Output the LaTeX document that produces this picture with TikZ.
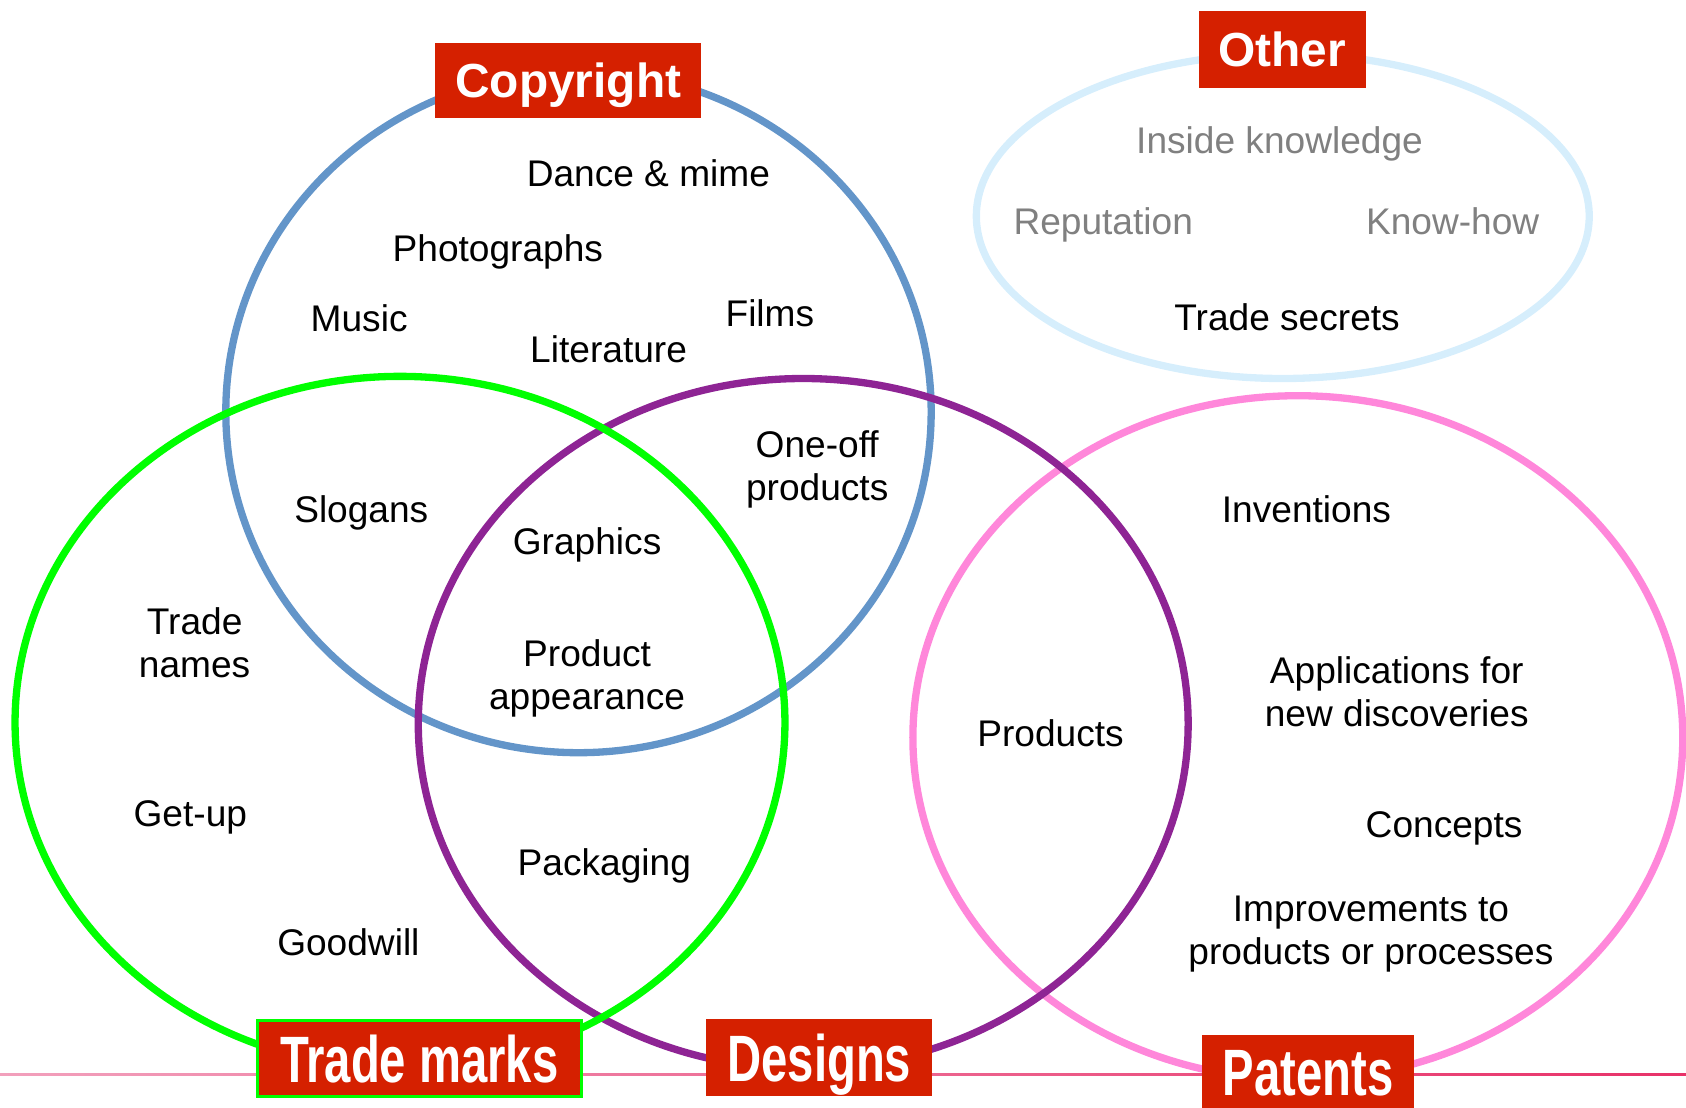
\documentclass[tikz,border=0pt]{standalone}
\usepackage{fontspec}
\setmainfont{Liberation Sans}

\definecolor{copyblue}{RGB}{99,149,201}
\definecolor{markgreen}{RGB}{0,255,0}
\definecolor{designpurple}{RGB}{142,36,148}
\definecolor{patentpink}{RGB}{255,135,218}
\definecolor{otherblue}{RGB}{214,238,252}
\definecolor{tagred}{RGB}{213,32,0}
\definecolor{othergray}{RGB}{128,128,128}
\definecolor{lineleft}{RGB}{242,160,188}
\definecolor{lineright}{RGB}{232,50,105}

\newcommand{\narrowtag}[1]{\scalebox{0.72}[1]{#1}}

\tikzset{every picture/.style={line width=0.75pt}}
\tikzset{
  ring/.style={line width=3.4pt},
  tag/.style={fill=tagred, text=white, inner sep=0pt, text depth=0pt,
    font=\fontsize{22.25}{26}\selectfont\bfseries},
  widetag/.style={tag, font=\fontsize{30.5}{34}\selectfont\bfseries},
  item/.style={inner sep=0pt, align=center,
    font=\fontsize{17.25}{20}\selectfont},
  faint/.style={item, text=othergray}
}

\begin{document}
\begin{tikzpicture}[x=0.5pt,y=0.5pt,yscale=-1,xscale=1]
  \useasboundingbox (0,0) rectangle (1568,1030);

  %Straight Lines
  \shade [left color=lineleft, right color=lineright] (0,998) rectangle (1568,1000.5);

  %Shape: Ellipse
  \draw [otherblue, ring] (1193,201) ellipse [x radius=285, y radius=151];
  %Shape: Circle
  \draw [copyblue, ring] (538,383) ellipse [x radius=328, y radius=317];
  %Shape: Circle
  \draw [patentpink, ring] (1207,686) ellipse [x radius=358, y radius=318];
  %Shape: Circle
  \draw [designpurple, ring] (747,673) ellipse [x radius=358, y radius=321];
  %Shape: Circle
  \draw [markgreen, ring] (372,672) ellipse [x radius=358, y radius=322];

  % Tags
  \node [tag, minimum width=123.5pt, minimum height=35pt] (copyright) at (528.5,75) {Copyright};
  \node [tag, minimum width=77.5pt, minimum height=36pt] (other) at (1192.5,46) {Other};
  \node [widetag, draw=markgreen, line width=1.4pt, minimum width=150.5pt, minimum height=35pt] (marks) at (390,984.5) {\narrowtag{Trade marks}};
  \node [widetag, minimum width=105pt, minimum height=35.5pt] (designs) at (762,983.5) {\narrowtag{Designs}};
  \node [widetag, minimum width=98.5pt, minimum height=35pt] (patents) at (1216.5,998) {\narrowtag{Patents}};

  % Copyright only
  \node [item] (dance) at (603,161) {Dance \& mime};
  \node [item] (photos) at (463,234) {Photographs};
  \node [item] (music) at (334,296) {Music};
  \node [item] (films) at (716,291) {Films};
  \node [item] (literature) at (566,325) {Literature};
  \node [item] (oneoff) at (760,437) {One-off\\products};
  % Copyright and trade marks
  \node [item] (slogans) at (336,477) {Slogans};
  % All three
  \node [item] (graphics) at (546,507) {Graphics};
  \node [item] (appearance) at (546,631) {Product\\appearance};
  % Trade marks only
  \node [item] (names) at (181,598) {Trade\\names};
  \node [item] (getup) at (177,760) {Get-up};
  \node [item] (goodwill) at (324,876) {Goodwill};
  % Trade marks and designs
  \node [item] (packaging) at (562,805) {Packaging};
  % Designs and patents
  \node [item] (products) at (977,682) {Products};
  % Patents only
  \node [item] (inventions) at (1215,474) {Inventions};
  \node [item] (applications) at (1299,643) {Applications for\\new discoveries};
  \node [item] (concepts) at (1343,770) {Concepts};
  \node [item] (improvements) at (1275,869) {Improvements to\\products or processes};
  % Other
  \node [faint] (inside) at (1190,134) {Inside knowledge};
  \node [faint] (reputation) at (1026,209) {Reputation};
  \node [faint] (knowhow) at (1351,206) {Know-how};
  \node [item] (secrets) at (1197,295) {Trade secrets};

\end{tikzpicture}
\end{document}
